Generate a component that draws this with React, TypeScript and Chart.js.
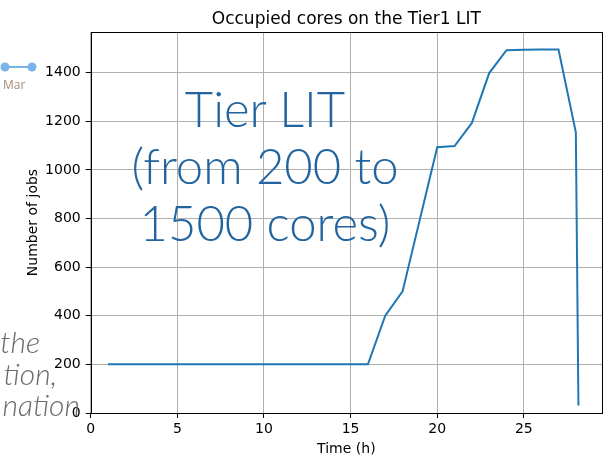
import React, { useEffect, useRef } from "react";
import { Chart, registerables } from "chart.js";

Chart.register(...registerables);

const hours = [1, 2, 3, 4, 5, 6, 7, 8, 9, 10, 11, 12, 13, 14, 15, 16, 17, 18, 19, 20, 21, 22, 23, 24, 25, 26, 27, 28, 28.15];
const jobs = [200, 200, 200, 200, 200, 200, 200, 200, 200, 200, 200, 200, 200, 200, 200, 200, 400, 500, 797, 1093, 1098, 1193, 1398, 1492, 1494, 1495, 1495, 1154, 31];
const xTickValues = [0, 5, 10, 15, 20, 25];
const yTickValues = [0, 200, 400, 600, 800, 1000, 1200, 1400];
const titleText = "Occupied cores on the Tier1 LIT";
const xTitle = "Time (h)";
const yTitle = "Number of jobs";
const overlayLines = ["Tier LIT", "(from 200 to", "1500 cores)"];
const sideLines = ["the", "tion,", "nation"];

const FONT = "'DejaVu Sans', sans-serif";

const framePlugin = {
  id: "frame",
  afterDatasetsDraw(chart: any) {
    const { ctx, chartArea } = chart;
    ctx.save();
    ctx.strokeStyle = "#000";
    ctx.lineWidth = 1;
    ctx.strokeRect(
      Math.round(chartArea.left) + 0.5,
      Math.round(chartArea.top) + 0.5,
      Math.round(chartArea.right - chartArea.left),
      Math.round(chartArea.bottom - chartArea.top)
    );
    // axes title centred over the plot area, as matplotlib does
    ctx.fillStyle = "#000";
    ctx.font = `17px ${FONT}`;
    ctx.textAlign = "center";
    ctx.textBaseline = "alphabetic";
    ctx.fillText(titleText, (chartArea.left + chartArea.right) / 2, chartArea.top - 8);
    ctx.restore();
  },
};

export default function App() {
  const ref = useRef<HTMLCanvasElement>(null);
  useEffect(() => {
    if (!ref.current) return;
    const chart = new Chart(ref.current, {
      type: "line",
      data: {
        datasets: [
          {
            data: hours.map((h, i) => ({ x: h, y: jobs[i] })),
            borderColor: "#1f77b4",
            borderWidth: 2,
            pointRadius: 0,
            tension: 0,
            fill: false,
          },
        ],
      },
      options: {
        responsive: false,
        animation: false,
        layout: { padding: { left: 0, right: 3, top: 32, bottom: 0 } },
        plugins: {
          legend: { display: false },
          tooltip: { enabled: false },
          title: { display: false },
        },
        scales: {
          x: {
            type: "linear",
            min: 0,
            max: 29.51,
            afterBuildTicks: (s: any) => {
              s.ticks = xTickValues.map((v) => ({ value: v }));
            },
            afterFit: (s: any) => {
              s.height = 45;
            },
            ticks: {
              autoSkip: false,
              color: "#000",
              font: { family: FONT, size: 14 },
              maxRotation: 0,
              padding: 3,
              callback: (v: any) => String(v),
            },
            grid: { color: "#b0b0b0", lineWidth: 1, tickColor: "#000", tickLength: 5 },
            border: { display: false },
            title: { display: true, text: xTitle, color: "#000", font: { family: FONT, size: 14 }, padding: { top: 0.6, bottom: 0 } },
          },
          y: {
            type: "linear",
            min: 0,
            max: 1567,
            afterBuildTicks: (s: any) => {
              s.ticks = yTickValues.map((v) => ({ value: v }));
            },
            afterFit: (s: any) => {
              s.width = 90.7;
            },
            ticks: {
              autoSkip: false,
              color: "#000",
              font: { family: FONT, size: 14 },
              padding: 5,
              callback: (v: any) => String(v),
            },
            grid: { color: "#b0b0b0", lineWidth: 1, tickColor: "#000", tickLength: 5 },
            border: { display: false },
            title: { display: true, text: yTitle, color: "#000", font: { family: FONT, size: 14 }, padding: { top: 24.6, bottom: 0 } },
          },
        },
      },
      plugins: [framePlugin],
    });
    return () => chart.destroy();
  }, []);

  return (
    <div style={{ position: "absolute", left: 0, top: 0, width: 605, height: 458, background: "#fff", overflow: "hidden" }}>
      <canvas ref={ref} width={605} height={458} style={{ position: "absolute", left: 0, top: 0 }} />
      <div
        style={{
          position: "absolute",
          left: 90,
          width: 350,
          top: 80,
          textAlign: "center",
          fontFamily: "Lato, sans-serif",
          fontWeight: 300,
          fontSize: 49,
          lineHeight: "57px",
          color: "#21649f",
          pointerEvents: "none",
        }}
      >
        {overlayLines.map((l) => (
          <div key={l}>{l}</div>
        ))}
      </div>
      <div
        style={{
          position: "absolute",
          right: 525,
          top: 326,
          textAlign: "right",
          fontFamily: "Lato, sans-serif",
          fontStyle: "italic",
          fontWeight: 300,
          fontSize: 30,
          lineHeight: "31.5px",
          color: "#6a6a6a",
          pointerEvents: "none",
          whiteSpace: "nowrap",
        }}
      >
        <div style={{ marginRight: 40 }}>{sideLines[0]}</div>
        <div style={{ marginRight: 23 }}>{sideLines[1]}</div>
        <div>{sideLines[2]}</div>
      </div>
      <svg width={40} height={20} style={{ position: "absolute", left: 0, top: 57 }}>
        <line x1={5} y1={10} x2={32} y2={10} stroke="#7ab3e8" strokeWidth={2} />
        <circle cx={5} cy={10} r={4.5} fill="#7ab3e8" />
        <circle cx={32} cy={10} r={4.5} fill="#7ab3e8" />
      </svg>
      <div style={{ position: "absolute", left: 3, top: 76, fontFamily: "'Open Sans', sans-serif", fontSize: 12, color: "#a88c78" }}>Mar</div>
    </div>
  );
}
